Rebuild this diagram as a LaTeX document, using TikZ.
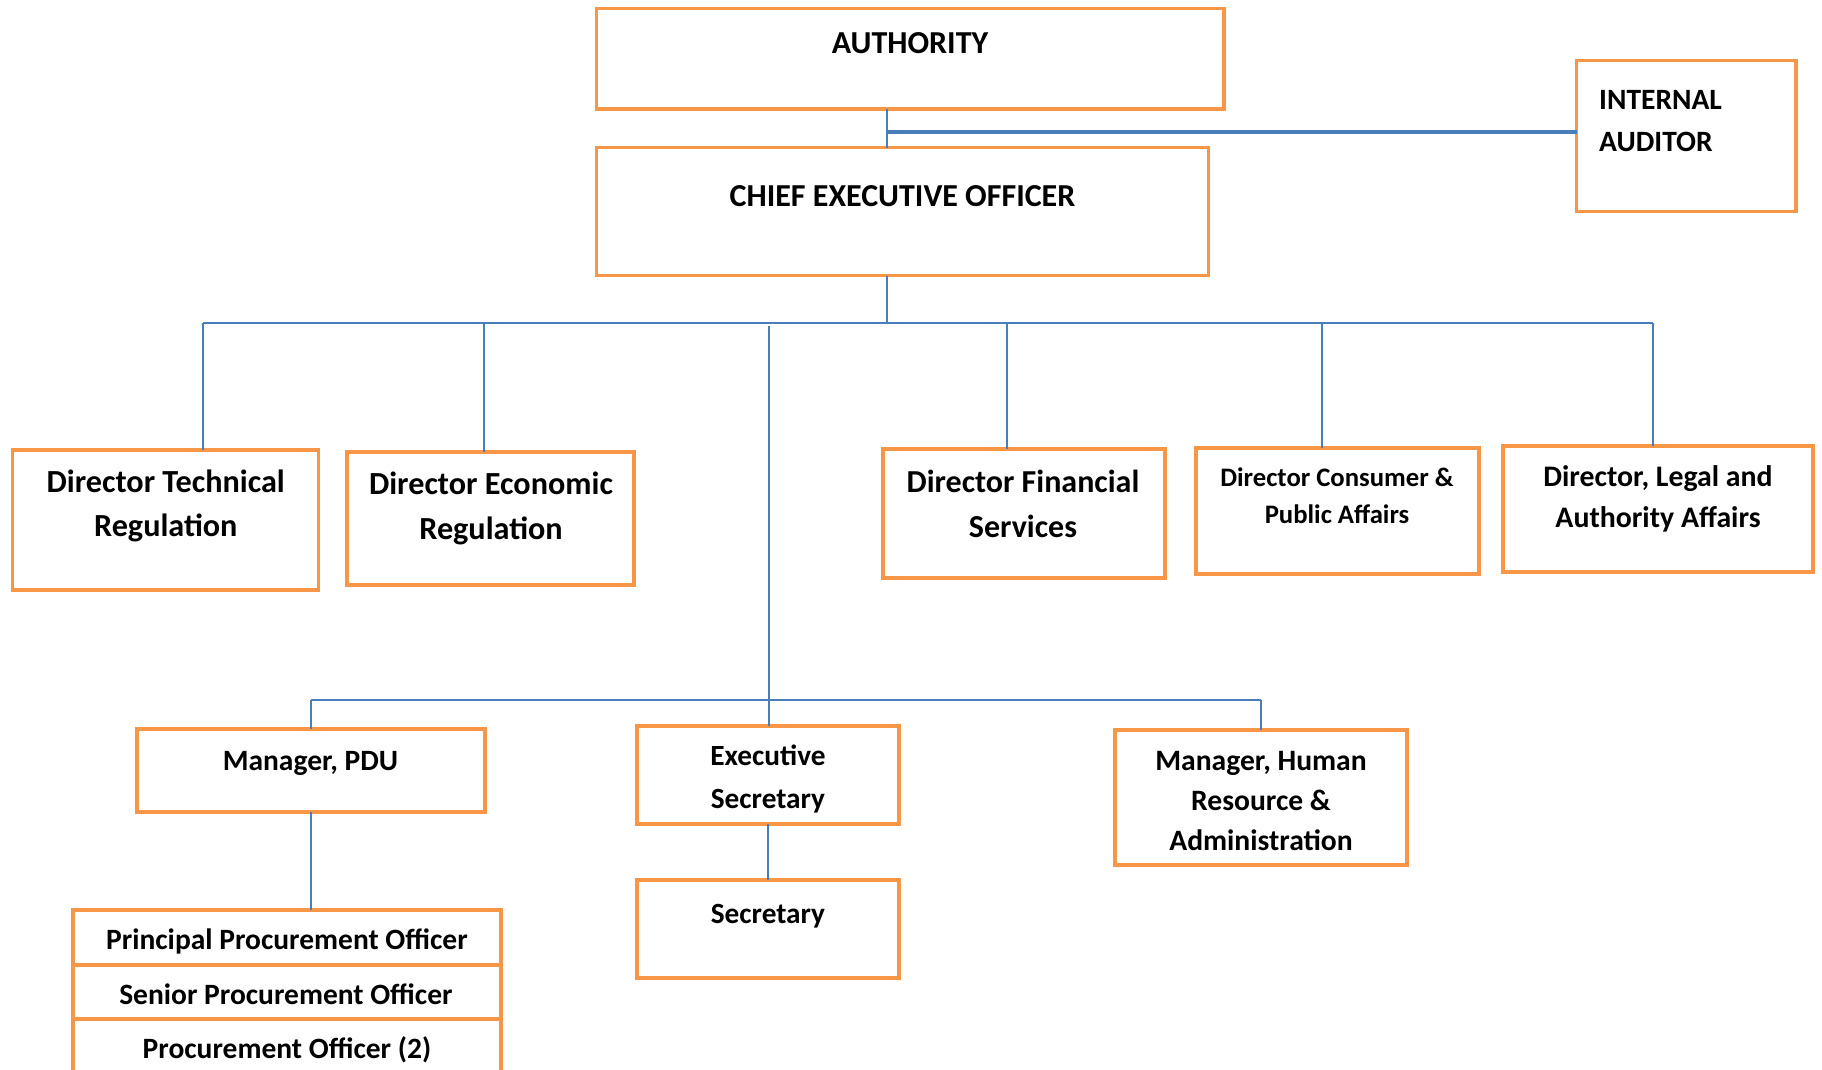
\documentclass[tikz,border=0pt]{standalone}
\usepackage{fontspec}
\setmainfont{Carlito}
\definecolor{orgc}{HTML}{F79646}
\definecolor{bluec}{HTML}{4A7EBB}
\newcommand\fz[2]{\fontsize{#1}{#2}\selectfont}
\begin{document}
\begin{tikzpicture}[x=1pt,y=-1pt,
  box/.style={draw=orgc,line width=3.5pt,rectangle,inner sep=0pt,outer sep=0pt,fill=white},
  txt/.style={inner sep=0pt,align=center,font=\bfseries},
  conn/.style={draw=bluec,line width=1.4pt},
  connthick/.style={draw=bluec,line width=3.3pt}]
\useasboundingbox (0,0) rectangle (1822,1070);
\clip (0,0) rectangle (1822,1070);
% boxes
\node[box,minimum width=627.5pt,minimum height=100.7pt] (auth) at (910.25,58.65) {};
\node[box,minimum width=612pt,minimum height=128pt] (ceo) at (902.55,211.7) {};
\node[box,minimum width=219.3pt,minimum height=151pt] (aud) at (1686.35,136.2) {};
\node[box,minimum width=306pt,minimum height=140pt] (tech) at (165.6,520) {};
\node[box,minimum width=287pt,minimum height=133pt] (econ) at (490.5,518.5) {};
\node[box,minimum width=282pt,minimum height=129pt] (fin) at (1024,513.5) {};
\node[box,minimum width=283pt,minimum height=126pt] (cons) at (1337.5,511) {};
\node[box,minimum width=310pt,minimum height=126pt] (legal) at (1658,509) {};
\node[box,minimum width=348pt,minimum height=83pt] (pdu) at (311,770.5) {};
\node[box,minimum width=262pt,minimum height=98pt] (exec) at (768,775) {};
\node[box,minimum width=262pt,minimum height=98pt] (sec) at (768,929) {};
\node[box,minimum width=292pt,minimum height=135pt] (hr) at (1261,797.5) {};
\node[box,minimum width=428pt,minimum height=55pt] (proc1) at (287,937.5) {};
\node[box,minimum width=428pt,minimum height=54pt] (proc2) at (287,992) {};
\node[box,minimum width=428pt,minimum height=55pt] (proc3) at (287,1046.5) {};
% texts
\node[txt,font=\bfseries\fz{32}{51}] (auth-t) at (910,43) {\strut AUTHORITY};
\node[txt,font=\bfseries\fz{32}{51}] (ceo-t) at (902.5,196) {\strut CHIEF EXECUTIVE OFFICER};
\node[txt,align=left,anchor=west,font=\bfseries\fz{29.5}{42}] (aud-t) at (1599,122) {\strut INTERNAL\\\strut AUDITOR};
\node[txt,font=\bfseries\fz{32.2}{44}] (tech-t) at (165.8,505.5) {\strut Director Technical\\\strut Regulation};
\node[txt,font=\bfseries\fz{32.2}{45}] (econ-t) at (491,507.5) {\strut Director Economic\\\strut Regulation};
\node[txt,font=\bfseries\fz{32}{45}] (fin-t) at (1023,505.5) {\strut Director Financial\\\strut Services};
\node[txt,font=\bfseries\fz{26.7}{37}] (cons-t) at (1337,497.5) {\strut Director Consumer \&\\\strut Public Affairs};
\node[txt,font=\bfseries\fz{29.8}{41}] (legal-t) at (1658,498.5) {\strut Director, Legal and\\\strut Authority Affairs};
\node[txt,font=\bfseries\fz{29.5}{46}] (pdu-t) at (310.5,761) {\strut Manager, PDU};
\node[txt,font=\bfseries\fz{29.3}{43}] (exec-t) at (768,778.5) {\strut Executive\\\strut Secretary};
\node[txt,font=\bfseries\fz{29.3}{46}] (sec-t) at (768,914) {\strut Secretary};
\node[txt,font=\bfseries\fz{29.6}{40}] (hr-t) at (1261,802.7) {\strut Manager, Human\\\strut Resource \&\\\strut Administration};
\node[txt,font=\bfseries\fz{29.5}{46}] (proc1-t) at (287,940.5) {\strut Principal Procurement Officer};
\node[txt,font=\bfseries\fz{29.5}{46}] (proc2-t) at (286,995) {\strut Senior Procurement Officer};
\node[txt,font=\bfseries\fz{29.5}{46}] (proc3-t) at (287,1049) {\strut Procurement Officer (2)};
% junction coordinates
\coordinate (jA) at (887,132);
\coordinate (jC) at (887,323);
\coordinate (busL) at (203,323);
\coordinate (busR) at (1653,323);
\coordinate (jE) at (484,323);
\coordinate (jF) at (1007,323);
\coordinate (jCo) at (1322,323);
\coordinate (jM) at (769,326);
\coordinate (jM2) at (769,700);
\coordinate (lbL) at (311,700);
\coordinate (lbR) at (1261,700);
% connectors
\draw[conn] (jA |- auth.south) -- (jA |- ceo.north);
\draw[connthick] (jA) -- (jA -| aud.west);
\draw[conn] (jC |- ceo.south) -- (jC);
\draw[conn] (busL) -- (busR);
\draw[conn] (busL) -- (busL |- tech.north);
\draw[conn] (jE) -- (jE |- econ.north);
\draw[conn] (jF) -- (jF |- fin.north);
\draw[conn] (jCo) -- (jCo |- cons.north);
\draw[conn] (busR) -- (busR |- legal.north);
\draw[conn] (jM) -- (jM2);
\draw[conn] (lbL) -- (lbR);
\draw[conn] (lbL) -- (lbL |- pdu.north);
\draw[conn] (jM2) -- (jM2 |- exec.north);
\draw[conn] (lbR) -- (lbR |- hr.north);
\draw[conn] (exec.south) -- (sec.north);
\draw[conn] (pdu.south) -- (pdu.south |- proc1.north);
\end{tikzpicture}
\end{document}
